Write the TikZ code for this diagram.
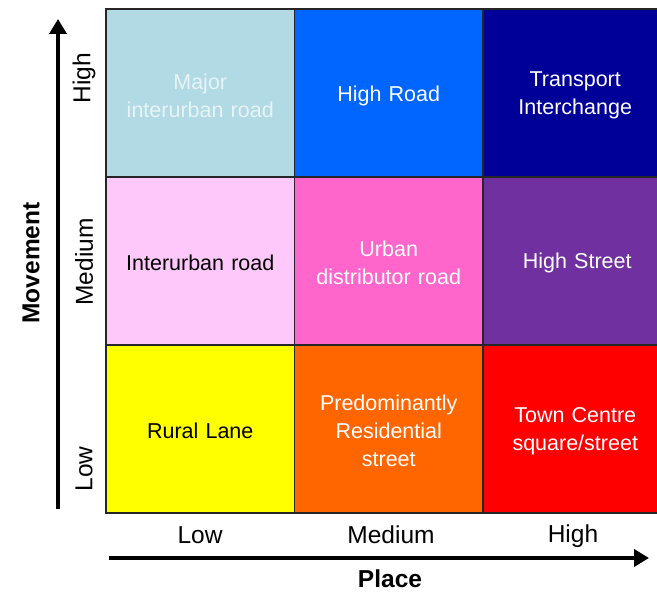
\documentclass[tikz,border=0pt]{standalone}
\usepackage{fontspec}
\setmainfont{Liberation Sans}
\usetikzlibrary{arrows.meta}
\definecolor{clightblue}{HTML}{B1DAE5}
\definecolor{cblue}{HTML}{0066FF}
\definecolor{cnavy}{HTML}{000099}
\definecolor{clightpink}{HTML}{FFC8FA}
\definecolor{cpink}{HTML}{FF66CC}
\definecolor{cpurple}{HTML}{7030A0}
\definecolor{cyellow}{HTML}{FFFF00}
\definecolor{corange}{HTML}{FF6600}
\definecolor{cred}{HTML}{FF0000}
\definecolor{cpale}{HTML}{E8F3F6}
\tikzset{
  cell/.style={draw=black!85, line width=1.3pt, minimum width=188.5pt, minimum height=168pt,
    inner sep=0pt},
  celltext/.style={inner sep=0pt, align=center, font=\fontsize{21.5}{28}\selectfont, text width=180pt},
  axlabel/.style={font=\fontsize{24.5}{28}\selectfont, inner sep=0pt},
  axtitle/.style={font=\fontsize{24.5}{28}\selectfont\bfseries, inner sep=0pt},
  axis/.style={line width=4.5pt, -{Triangle[length=15pt,width=17pt]}}
}
\begin{document}
\begin{tikzpicture}[x=1pt,y=-1pt]
\useasboundingbox (0,0) rectangle (657,593);
\clip (0,0) rectangle (657,593);
\fill[white] (0,0) rectangle (657,593);
% cells
\node[cell, fill=clightblue] (c11) at (200.25,93) {};
\node[cell, fill=cblue] (c12) at (388.75,93) {};
\node[cell, fill=cnavy] (c13) at (577.25,93) {};
\node[cell, fill=clightpink] (c21) at (200.25,261) {};
\node[cell, fill=cpink] (c22) at (388.75,261) {};
\node[cell, fill=cpurple] (c23) at (577.25,261) {};
\node[cell, fill=cyellow] (c31) at (200.25,429) {};
\node[cell, fill=corange] (c32) at (388.75,429) {};
\node[cell, fill=cred] (c33) at (577.25,429) {};
% cell texts
\node[celltext, text=cpale] (t11) at ([yshift=-2.5pt]c11.center) {Major\\interurban road};
\node[celltext, text=white] (t12) at ([yshift=-2.5pt]c12.center) {High Road};
\node[celltext, text=white] (t13) at ([yshift=-2.5pt,xshift=-2pt]c13.center) {Transport\\Interchange};
\node[celltext, text=black] (t21) at ([yshift=-2pt]c21.center) {Interurban road};
\node[celltext, text=white] (t22) at ([yshift=-2pt]c22.center) {Urban\\distributor road};
\node[celltext, text=white] (t23) at ([yshift=-2pt]c23.center) {High Street};
\node[celltext, text=black] (t31) at ([yshift=-2pt]c31.center) {Rural Lane};
\node[celltext, text=white] (t32) at ([yshift=-2pt]c32.center) {Predominantly\\Residential\\street};
\node[celltext, text=white] (t33) at ([yshift=-2pt,xshift=-2pt]c33.center) {Town Centre\\square/street};
% vertical axis
\coordinate (vs) at (58,509);
\coordinate (ve) at (58,19);
\draw[axis] (vs) -- (ve);
\node[axlabel, rotate=90] (vhigh) at (84,78) {High};
\node[axlabel, rotate=90] (vmed) at (84,262) {Medium};
\node[axlabel, rotate=90] (vlow) at (84,469) {Low};
\node[axtitle, rotate=90] (vtitle) at (31,263) {Movement};
% horizontal axis
\coordinate (hs) at (109,558);
\coordinate (he) at (649,558);
\draw[axis] (hs) -- (he);
\node[axlabel] (hlow) at (200,535) {Low};
\node[axlabel] (hmed) at (391,535) {Medium};
\node[axlabel] (hhigh) at (573,536) {High};
\node[axtitle] (htitle) at (390,579) {Place};
\end{tikzpicture}
\end{document}
